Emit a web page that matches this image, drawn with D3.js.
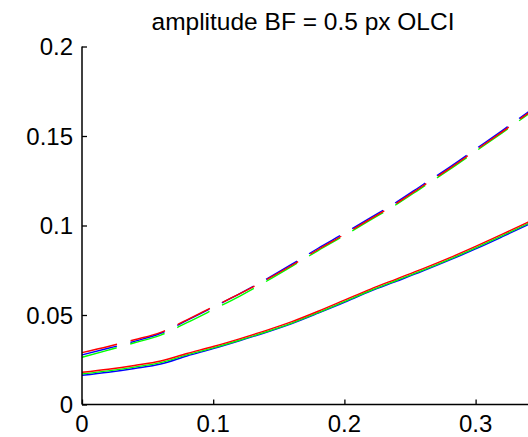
<!DOCTYPE html>
<html>
<head>
<meta charset="utf-8">
<script src="https://cdn.jsdelivr.net/npm/d3@7"></script>
<style>
  body { margin: 0; background: #fff; }
  svg { display: block; font-family: "Liberation Sans", Arial, sans-serif; }
</style>
</head>
<body>
<div id="chart"></div>
<script>
var width = 528;
var height = 437;

// data
var xs = [0, 0.02, 0.04, 0.06, 0.08, 0.10, 0.12, 0.14, 0.16, 0.18, 0.20, 0.22, 0.24, 0.26, 0.28, 0.30, 0.32, 0.34, 0.36];

var solidRed   = [0.0180, 0.0197, 0.0218, 0.0243, 0.0285, 0.0324, 0.0367, 0.0413, 0.0463, 0.0521, 0.0583, 0.0645, 0.0702, 0.0759, 0.0819, 0.0883, 0.0950, 0.1019, 0.1089];
var solidGreen = [0.0171, 0.0188, 0.0209, 0.0234, 0.0277, 0.0316, 0.0359, 0.0405, 0.0455, 0.0513, 0.0575, 0.0637, 0.0694, 0.0751, 0.0811, 0.0875, 0.0942, 0.1011, 0.1081];
var solidBlue  = [0.0163, 0.0180, 0.0201, 0.0226, 0.0271, 0.0312, 0.0356, 0.0402, 0.0452, 0.0510, 0.0571, 0.0633, 0.0689, 0.0746, 0.0806, 0.0869, 0.0936, 0.1005, 0.1075];

var dashRed    = [0.0290, 0.0324, 0.0362, 0.0403, 0.0473, 0.0546, 0.0618, 0.0695, 0.0778, 0.0866, 0.0950, 0.1037, 0.1125, 0.1222, 0.1318, 0.1420, 0.1522, 0.1627, 0.1730];
var dashGreen  = [0.0264, 0.0304, 0.0345, 0.0388, 0.0457, 0.0530, 0.0604, 0.0686, 0.0772, 0.0860, 0.0944, 0.1031, 0.1119, 0.1216, 0.1312, 0.1414, 0.1516, 0.1621, 0.1724];
var dashBlue   = [0.0277, 0.0314, 0.0353, 0.0398, 0.0470, 0.0544, 0.0618, 0.0698, 0.0784, 0.0873, 0.0957, 0.1044, 0.1132, 0.1229, 0.1325, 0.1427, 0.1529, 0.1634, 0.1737];

var xTicks = [0, 0.1, 0.2, 0.3];
var yTicks = [0, 0.05, 0.1, 0.15, 0.2];
var title = "amplitude BF = 0.5 px OLCI";

var series = [
    {vals: solidBlue,  color: "#0000ff", dash: null},
    {vals: solidGreen, color: "#00ff00", dash: null},
    {vals: solidRed,   color: "#ff0000", dash: null},
    {vals: dashBlue,   color: "#0000ff", dash: "36,14"},
    {vals: dashGreen,  color: "#00ff00", dash: "36,14"},
    {vals: dashRed,    color: "#ff0000", dash: "36,14"}
];

var plotLeft = 82, plotTop = 46.5, plotBottom = 404.5;

// axis runs past the right edge of the picture
var x = d3.scaleLinear().domain([0, 0.4]).range([plotLeft, plotLeft + 0.4 * 1312]);
var y = d3.scaleLinear().domain([0, 0.2]).range([plotBottom, plotTop]);

var svg = d3.select("#chart").append("svg")
    .attr("width", width)
    .attr("height", height);

svg.append("text")
    .attr("x", 303)
    .attr("y", 30)
    .attr("text-anchor", "middle")
    .attr("font-size", 24.5)
    .attr("fill", "#000")
    .text(title);

var line = d3.line()
    .x((d, i) => x(xs[i]))
    .y(d => y(d))
    .curve(d3.curveMonotoneX);

svg.selectAll(".curve")
    .data(series)
    .enter()
    .append("path")
    .attr("class", "curve")
    .attr("d", d => line(d.vals))
    .attr("fill", "none")
    .attr("stroke", d => d.color)
    .attr("stroke-width", 1.4)
    .attr("stroke-dasharray", d => d.dash);

// axes, ticks pointing inward like matlab
var yAxis = d3.axisRight(y).tickValues(yTicks).tickSize(5);
var gy = svg.append("g").attr("transform", `translate(${plotLeft},0)`).call(yAxis);
gy.select(".domain").remove();
gy.selectAll("text").remove();

var xAxis = d3.axisTop(x).tickValues(xTicks).tickSize(5);
var gx = svg.append("g").attr("transform", `translate(0,${plotBottom})`).call(xAxis);
gx.select(".domain").remove();
gx.selectAll("text").remove();

svg.selectAll(".tick line").attr("stroke", "#000").attr("stroke-width", 1.3);

svg.append("line")
    .attr("x1", plotLeft).attr("x2", plotLeft)
    .attr("y1", plotTop).attr("y2", plotBottom)
    .attr("stroke", "#000").attr("stroke-width", 1.5);
svg.append("line")
    .attr("x1", plotLeft).attr("x2", width + 5)
    .attr("y1", plotBottom).attr("y2", plotBottom)
    .attr("stroke", "#000").attr("stroke-width", 1.5);

svg.selectAll(".ylab")
    .data(yTicks)
    .enter()
    .append("text")
    .attr("class", "ylab")
    .attr("x", plotLeft - 9)
    .attr("y", d => y(d) + 8.5)
    .attr("text-anchor", "end")
    .attr("font-size", 24)
    .text(d => d3.format("~g")(d));

svg.selectAll(".xlab")
    .data(xTicks)
    .enter()
    .append("text")
    .attr("class", "xlab")
    .attr("x", d => x(d))
    .attr("y", 432)
    .attr("text-anchor", "middle")
    .attr("font-size", 24)
    .text(d => d3.format("~g")(d));
</script>
</body>
</html>
